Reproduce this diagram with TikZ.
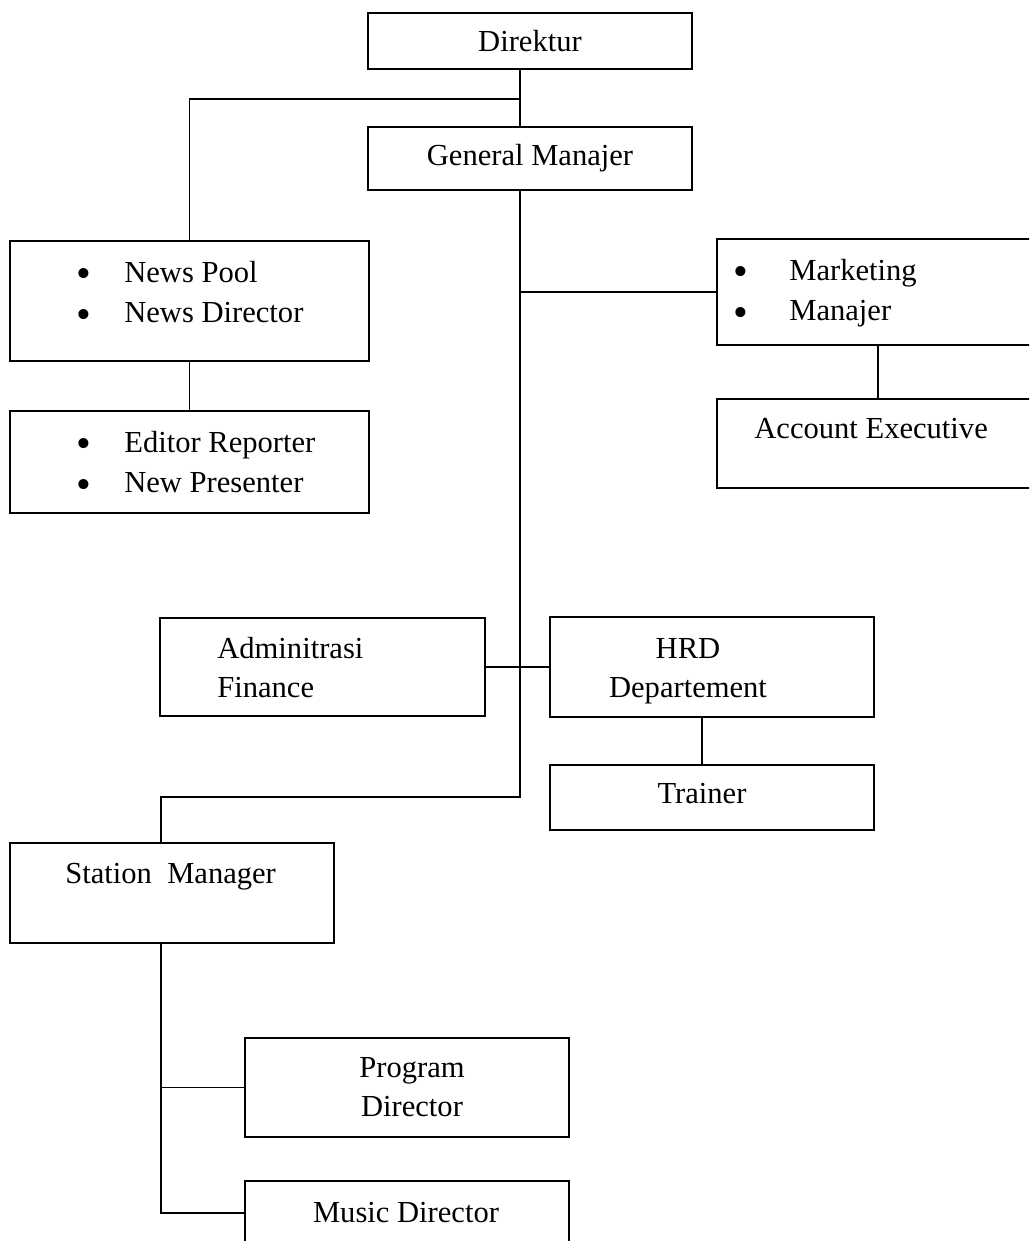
\documentclass[tikz,border=0pt]{standalone}
\usepackage{fontspec}
\setmainfont{Liberation Serif}
\usetikzlibrary{calc, positioning}

% bullet of the lists, centred on the start of the line
\newcommand\bul{\makebox[0pt]{\raisebox{-3.3pt}{\fontsize{24}{24}\selectfont\textbullet}}}

\tikzset{
  box/.style 2 args={draw, line width=0.9pt, rectangle, inner sep=0pt, outer sep=0pt,
    anchor=north west, minimum width=#1*0.02cm, minimum height=#2*0.02cm},
  lbl/.style={inner sep=0pt, font=\fontsize{17.4}{23.2}\selectfont},
  link/.style={line width=0.9pt},
}

\begin{document}
\begin{tikzpicture}[x=0.02cm, y=-0.02cm]
   \clip (0,0) rectangle (1029,1241);
   % Boxes
   \node[box={324}{56}] (dir) at (368,13) {};
   \node[box={324}{63}] (gm) at (368,127) {};
   \node[box={359}{120}] (np) at (10,241) {};
   \node[box={359}{102}] (ed) at (10,411) {};
   \node[box={322}{106}] (mk) at (717,239) {};
   \node[box={322}{89}] (ae) at (717,399) {};
   \node[box={325}{98}] (adm) at (160,618) {};
   \node[box={324}{100}] (hrd) at (550,617) {};
   \node[box={324}{65}] (tr) at (550,765) {};
   \node[box={324}{100}] (sm) at (10,843) {};
   \node[box={324}{99}] (pd) at (245,1038) {};
   \node[box={324}{64}] (md) at (245,1181) {};
   % Texts
   \node[lbl] (dirlbl) at (530,41) {Direktur};
   \node[lbl] (gmlbl) at (530,158) {General Manajer};
   \node[lbl, anchor=base west] (nplbl) at (84,282)
      {\begin{tabular}[t]{@{}l@{}}\bul\hspace{0.8cm}News Pool\\ \bul\hspace{0.8cm}News Director\end{tabular}};
   \node[lbl, anchor=base west] (edlbl) at (84,452)
      {\begin{tabular}[t]{@{}l@{}}\bul\hspace{0.8cm}Editor Reporter\\ \bul\hspace{0.8cm}New Presenter\end{tabular}};
   \node[lbl, anchor=base west] (mklbl) at (741,280)
      {\begin{tabular}[t]{@{}l@{}}\bul\hspace{0.96cm}Marketing\\ \bul\hspace{0.96cm}Manajer\end{tabular}};
   \node[lbl, anchor=base west] (aelbl) at (754,438) {Account Executive};
   \node[lbl, anchor=base west] (admlbl1) at (217,658) {Adminitrasi};
   \node[lbl, anchor=base west] (admlbl2) at (217,697) {Finance};
   \node[lbl, anchor=base] (hrdlbl1) at (688,658) {HRD};
   \node[lbl, anchor=base] (hrdlbl2) at (688,697) {Departement};
   \node[lbl, anchor=base] (trlbl) at (702,803) {Trainer};
   \node[lbl, anchor=base west] (smlbl) at (65,883) {Station\ \ Manager};
   \node[lbl, anchor=base] (pdlbl1) at (412,1077) {Program};
   \node[lbl, anchor=base] (pdlbl2) at (412,1116) {Director};
   \node[lbl, anchor=base] (mdlbl) at (406,1222) {Music Director};
   % Turning points of the spine
   \coordinate (top) at (520,99);
   \coordinate (smturn) at (520,797);
   \coordinate (smin) at (161,797);
   % Connectors
   \draw[link] (dir.south -| top) -- (gm.north -| top);
   \draw[link] (top) -| (np.north);
   \draw[link] (np.south) -- (ed.north);
   \draw[link] (gm.south -| top) -- (smturn) -- (smin) -- (smin |- sm.north);
   \draw[link] (mk.west -| top) -- (mk.west);
   \draw[link] (mk.south) -- (ae.north);
   \draw[link] (adm.east) -- (hrd.west);
   \draw[link] ($(hrd.south)+(-10,0)$) -- ($(tr.north)+(-10,0)$);
   \draw[link] (sm.south -| smin) -- (smin |- md.west) -- (md.west);
   \draw[link] (smin |- pd.west) -- (pd.west);
\end{tikzpicture}
\end{document}
